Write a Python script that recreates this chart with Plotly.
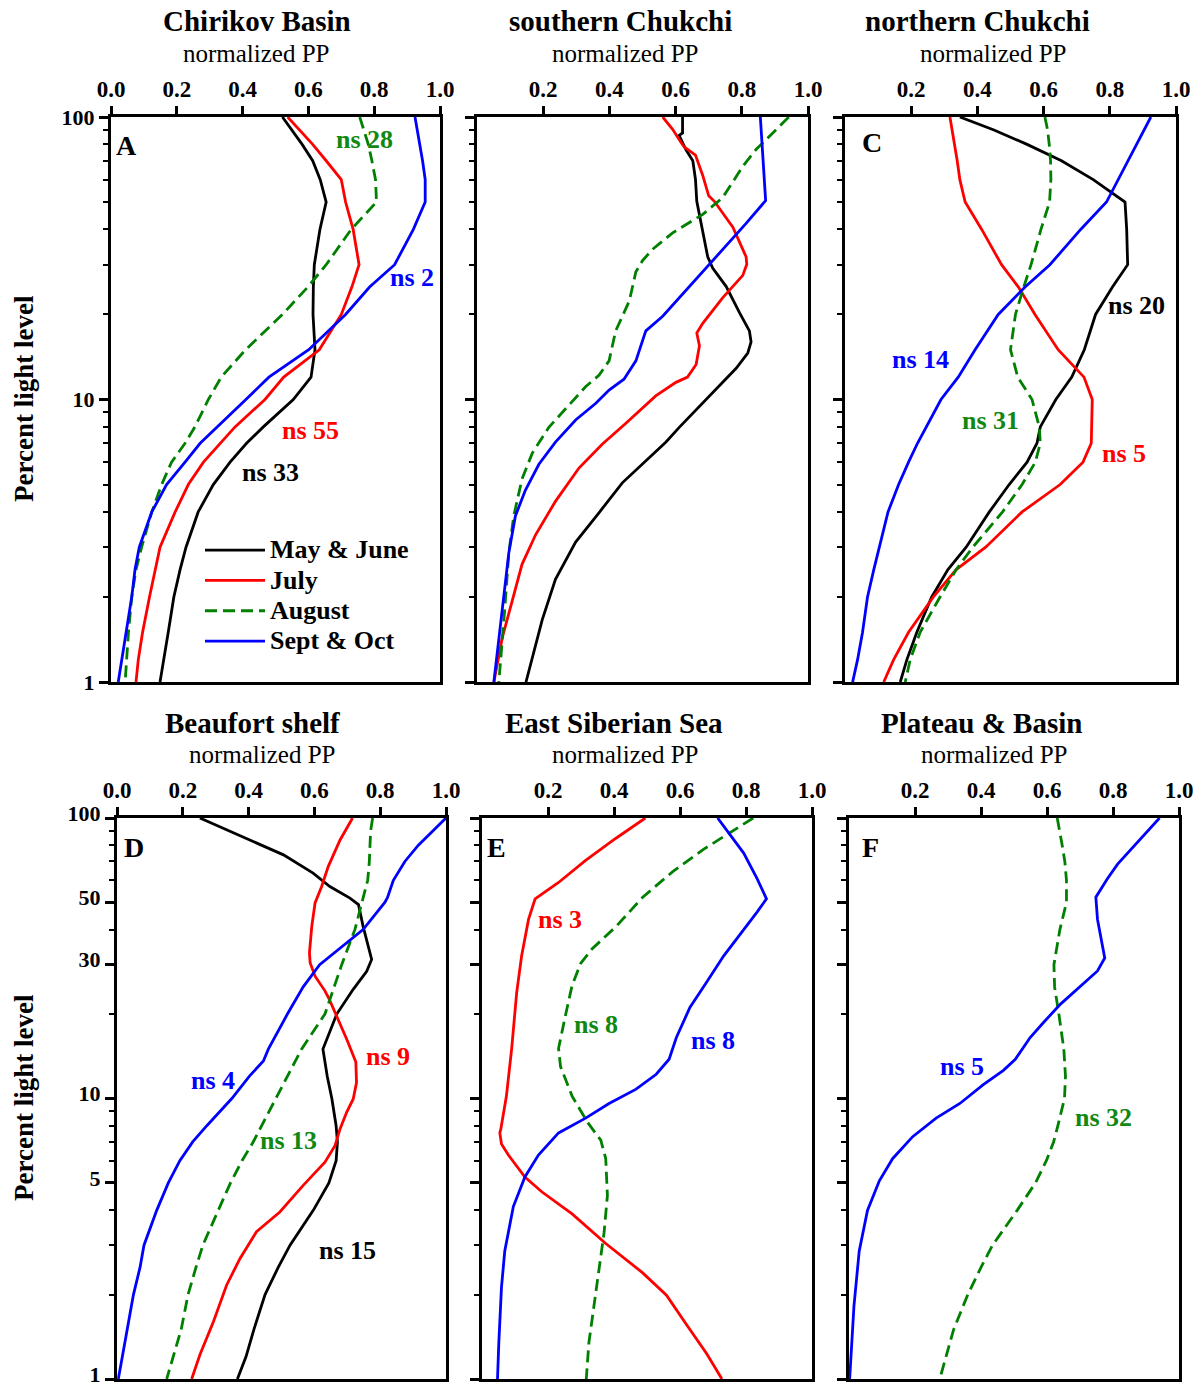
import plotly.graph_objects as go

W, H = 1200, 1389
FONT = "Liberation Serif"

# ---------------- data ----------------
LEVELS = [100, 90, 80, 70, 60, 50, 40, 30, 25, 20, 15, 12, 10, 8, 7, 6, 5, 4, 3, 2.5, 2, 1.5, 1.2, 1]
SERIES = ["May & June", "July", "August", "Sept & Oct"]

# A  Chirikov Basin
a_may_lvl = LEVELS
a_may_pp = [0.521, 0.550, 0.581, 0.613, 0.636, 0.654, 0.635, 0.618, 0.615, 0.614, 0.620, 0.608, 0.554,
            0.463, 0.412, 0.362, 0.311, 0.265, 0.228, 0.210, 0.191, 0.174, 0.159, 0.149]
a_jul_lvl = LEVELS
a_jul_pp = [0.537, 0.572, 0.613, 0.654, 0.700, 0.713, 0.736, 0.754, 0.732, 0.700, 0.633, 0.525, 0.468,
            0.377, 0.331, 0.281, 0.235, 0.195, 0.149, 0.134, 0.117, 0.096, 0.083, 0.076]
a_aug_lvl = LEVELS
a_aug_pp = [0.756, 0.768, 0.782, 0.793, 0.804, 0.807, 0.730, 0.654, 0.598, 0.521, 0.409, 0.335, 0.296,
            0.255, 0.225, 0.184, 0.154, 0.124, 0.093, 0.076, 0.063, 0.053, 0.047, 0.043]
a_sep_lvl = LEVELS
a_sep_pp = [0.924, 0.931, 0.939, 0.947, 0.955, 0.955, 0.919, 0.862, 0.786, 0.713, 0.601, 0.480, 0.410,
            0.321, 0.271, 0.225, 0.169, 0.124, 0.086, 0.073, 0.063, 0.046, 0.032, 0.022]

# B  southern Chukchi
b_may_lvl = [100, 87.8, 86.0, 76.7, 70.0, 60.2, 50.3, 39.5, 32.0, 29.2, 25.1, 20.3, 17.5, 16.0, 14.6, 12.9,
             10.3, 7.97, 7.07, 6.08, 5.07, 3.98, 3.13, 2.31, 1.66, 1]
b_may_pp = [0.621, 0.621, 0.611, 0.631, 0.652, 0.660, 0.664, 0.682, 0.697, 0.712, 0.753, 0.793, 0.823, 0.828,
            0.818, 0.783, 0.702, 0.611, 0.571, 0.510, 0.439, 0.369, 0.298, 0.237, 0.197, 0.148]
b_jul_lvl = [100, 90.5, 81.4, 78.3, 73.3, 62.1, 52.6, 50.3, 40.7, 32.0, 30.1, 27.5, 22.9, 18.6, 17.2, 15.5,
             13.3, 12.0, 11.5, 10.3, 8.22, 6.96, 5.72, 4.36, 3.32, 2.61, 1.93, 1.43, 1]
b_jul_pp = [0.561, 0.591, 0.616, 0.626, 0.660, 0.682, 0.700, 0.717, 0.773, 0.813, 0.815, 0.803, 0.742, 0.682,
            0.664, 0.672, 0.662, 0.636, 0.601, 0.540, 0.449, 0.379, 0.308, 0.237, 0.177, 0.136, 0.106, 0.076, 0.051]
b_aug_lvl = [100, 85.2, 76.7, 66.9, 54.2, 51.8, 45.2, 38.9, 34.0, 31.0, 28.3, 22.3, 17.5, 13.7, 12.2, 11.1,
             9.56, 7.97, 6.46, 5.23, 3.87, 2.86, 1.82, 1]
b_aug_pp = [0.942, 0.884, 0.843, 0.803, 0.753, 0.742, 0.682, 0.591, 0.530, 0.500, 0.480, 0.460, 0.419, 0.399,
            0.369, 0.328, 0.278, 0.217, 0.167, 0.136, 0.111, 0.096, 0.084, 0.066]
b_sep_lvl = [100, 68.0, 50.6, 42.0, 34.0, 30.1, 23.6, 19.7, 17.5, 15.0, 13.7, 11.8, 10.8, 9.70, 8.46, 7.07,
             5.90, 4.77, 3.87, 2.86, 1.82, 1]
b_sep_pp = [0.856, 0.864, 0.872, 0.813, 0.742, 0.702, 0.621, 0.561, 0.510, 0.490, 0.480, 0.444, 0.399, 0.359,
            0.298, 0.237, 0.187, 0.146, 0.116, 0.096, 0.076, 0.051]

# C  northern Chukchi
c_may_lvl = LEVELS
c_may_pp = [0.347, 0.450, 0.550, 0.654, 0.750, 0.846, 0.851, 0.854, 0.808, 0.757, 0.723, 0.685, 0.637,
            0.590, 0.580, 0.550, 0.496, 0.436, 0.366, 0.311, 0.262, 0.217, 0.187, 0.167]
c_jul_lvl = LEVELS
c_jul_pp = [0.317, 0.324, 0.332, 0.339, 0.347, 0.363, 0.413, 0.473, 0.524, 0.574, 0.644, 0.722, 0.747,
            0.746, 0.744, 0.719, 0.650, 0.535, 0.425, 0.336, 0.267, 0.192, 0.147, 0.117]
c_aug_lvl = LEVELS
c_aug_pp = [0.604, 0.612, 0.617, 0.621, 0.622, 0.618, 0.592, 0.562, 0.540, 0.515, 0.500, 0.522, 0.565,
            0.587, 0.590, 0.575, 0.535, 0.476, 0.386, 0.336, 0.287, 0.227, 0.197, 0.182]
c_sep_lvl = LEVELS
c_sep_pp = [0.924, 0.904, 0.881, 0.854, 0.826, 0.790, 0.712, 0.619, 0.544, 0.463, 0.393, 0.342, 0.290,
            0.247, 0.219, 0.192, 0.162, 0.130, 0.103, 0.087, 0.068, 0.053, 0.038, 0.023]

# D  Beaufort shelf
d_may_lvl = [100, 84.7, 73.9, 63.6, 57.0, 51.8, 49.1, 41.1, 31.3, 28.4, 24.5, 20, 15, 12, 10, 8, 7, 6, 5, 4,
             3, 2.5, 2, 1.5, 1.2, 1]
d_may_pp = [0.252, 0.394, 0.506, 0.596, 0.647, 0.708, 0.734, 0.748, 0.774, 0.759, 0.718, 0.668, 0.626, 0.639,
            0.653, 0.666, 0.670, 0.666, 0.644, 0.597, 0.526, 0.490, 0.450, 0.416, 0.392, 0.366]
d_jul_lvl = [100, 83.5, 67.1, 57.0, 49.8, 41.1, 33.1, 30.5, 27.3, 24.2, 22.6, 19.7, 16.3, 13.5, 11.4, 9.96,
             8.93, 7.79, 6.80, 5.93, 4.90, 3.94, 3.35, 2.69, 2.16, 1.60, 1.22, 1]
d_jul_pp = [0.716, 0.678, 0.642, 0.622, 0.602, 0.592, 0.585, 0.587, 0.602, 0.632, 0.645, 0.668, 0.698, 0.726,
            0.728, 0.718, 0.698, 0.678, 0.663, 0.632, 0.566, 0.495, 0.424, 0.374, 0.333, 0.293, 0.252, 0.227]
d_aug_lvl = LEVELS
d_aug_pp = [0.777, 0.771, 0.769, 0.767, 0.762, 0.744, 0.723, 0.683, 0.660, 0.632, 0.561, 0.518, 0.481,
            0.440, 0.414, 0.380, 0.345, 0.308, 0.261, 0.240, 0.216, 0.195, 0.172, 0.151]
d_sep_lvl = [100, 90, 80, 70, 60, 52, 50, 40, 30, 25, 20, 15, 13.6, 12, 10, 8, 7, 6, 5, 4, 3, 2.5, 2, 1.5,
             1.2, 1]
d_sep_pp = [1.0, 0.961, 0.916, 0.875, 0.840, 0.822, 0.814, 0.748, 0.616, 0.566, 0.518, 0.460, 0.445, 0.402,
            0.349, 0.273, 0.230, 0.191, 0.156, 0.121, 0.082, 0.070, 0.050, 0.031, 0.015, 0.004]

# E  East Siberian Sea (no May & June)
e_jul_lvl = [100, 84.7, 70.6, 58.9, 51.5, 43.5, 32.2, 23.8, 15.1, 10.2, 7.77, 7.54, 6.88, 6.29, 5.25, 4.65,
             3.88, 3.04, 2.39, 1.99, 1.56, 1.23, 1]
e_jul_pp = [0.495, 0.406, 0.314, 0.232, 0.161, 0.141, 0.120, 0.105, 0.090, 0.074, 0.057, 0.054, 0.059, 0.080,
            0.130, 0.181, 0.273, 0.375, 0.487, 0.559, 0.620, 0.681, 0.727]
e_aug_lvl = [100, 87.3, 77.3, 64.5, 52.2, 41.0, 34.2, 30.3, 25.3, 19.8, 15.1, 13.0, 10.2, 8.25, 7.10, 6.10,
             4.51, 3.33, 2.46, 1.82, 1.35, 1]
e_aug_pp = [0.822, 0.742, 0.671, 0.579, 0.487, 0.406, 0.334, 0.299, 0.273, 0.253, 0.232, 0.238, 0.273, 0.319,
            0.360, 0.375, 0.380, 0.370, 0.355, 0.339, 0.324, 0.316]
e_sep_lvl = [100, 87.3, 75.0, 60.7, 51.5, 46.3, 38.6, 32.2, 26.0, 21.1, 16.5, 13.8, 12.2, 10.8, 9.60, 8.51,
             7.54, 6.29, 5.25, 4.12, 2.86, 2.12, 1.35, 1]
e_sep_pp = [0.714, 0.752, 0.793, 0.834, 0.862, 0.834, 0.783, 0.732, 0.681, 0.630, 0.589, 0.567, 0.528, 0.467,
            0.385, 0.314, 0.232, 0.171, 0.130, 0.095, 0.069, 0.059, 0.051, 0.047]

# F  Plateau & Basin (August, Sept & Oct only)
f_aug_lvl = LEVELS
f_aug_pp = [0.631, 0.639, 0.646, 0.654, 0.659, 0.659, 0.639, 0.621, 0.623, 0.636, 0.651, 0.656, 0.653,
            0.633, 0.620, 0.598, 0.565, 0.510, 0.435, 0.400, 0.360, 0.317, 0.295, 0.275]
f_sep_lvl = [100, 82.2, 68.5, 60.7, 52.2, 43.5, 37.4, 31.7, 28.5, 24.5, 21.7, 18.7, 16.5, 13.8, 12.6, 11.2,
             9.60, 8.51, 7.31, 6.10, 5.09, 3.99, 2.86, 1.82, 1]
f_sep_pp = [0.941, 0.875, 0.814, 0.783, 0.748, 0.753, 0.763, 0.775, 0.753, 0.692, 0.641, 0.590, 0.549, 0.504,
            0.468, 0.407, 0.336, 0.264, 0.193, 0.132, 0.092, 0.056, 0.031, 0.015, 0.002]

PANEL_TITLES = ["Chirikov Basin", "southern Chukchi", "northern Chukchi",
                "Beaufort shelf", "East Siberian Sea", "Plateau & Basin"]
PANEL_LETTERS = ["A", "", "C", "D", "E", "F"]
X_TICKS_FULL = [0.0, 0.2, 0.4, 0.6, 0.8, 1.0]
X_TICKS_PART = [0.2, 0.4, 0.6, 0.8, 1.0]
Y_TICKS_TOP = [1, 10, 100]
Y_TICKS_BOTTOM = [1, 5, 10, 30, 50, 100]

# ns labels: (panel, text, series index, x px, y px)
NS_LABELS = [
    (0, "ns 28", 2, 364, 139), (0, "ns 2", 3, 412, 277), (0, "ns 55", 1, 310, 431), (0, "ns 33", 0, 270, 472),
    (2, "ns 20", 0, 1136, 305), (2, "ns 14", 3, 920, 359), (2, "ns 31", 2, 990, 421), (2, "ns 5", 1, 1124, 453),
    (3, "ns 4", 3, 213, 1080), (3, "ns 13", 2, 288, 1140), (3, "ns 9", 1, 388, 1056), (3, "ns 15", 0, 347, 1250),
    (4, "ns 3", 1, 560, 919), (4, "ns 8", 2, 596, 1024), (4, "ns 8", 3, 713, 1040),
    (5, "ns 5", 3, 962, 1066), (5, "ns 32", 2, 1103, 1117),
]

panels = [
    [(a_may_lvl, a_may_pp, 0), (a_jul_lvl, a_jul_pp, 1), (a_aug_lvl, a_aug_pp, 2), (a_sep_lvl, a_sep_pp, 3)],
    [(b_may_lvl, b_may_pp, 0), (b_jul_lvl, b_jul_pp, 1), (b_aug_lvl, b_aug_pp, 2), (b_sep_lvl, b_sep_pp, 3)],
    [(c_may_lvl, c_may_pp, 0), (c_jul_lvl, c_jul_pp, 1), (c_aug_lvl, c_aug_pp, 2), (c_sep_lvl, c_sep_pp, 3)],
    [(d_may_lvl, d_may_pp, 0), (d_jul_lvl, d_jul_pp, 1), (d_aug_lvl, d_aug_pp, 2), (d_sep_lvl, d_sep_pp, 3)],
    [(e_jul_lvl, e_jul_pp, 1), (e_aug_lvl, e_aug_pp, 2), (e_sep_lvl, e_sep_pp, 3)],
    [(f_aug_lvl, f_aug_pp, 2), (f_sep_lvl, f_sep_pp, 3)],
]

# ---------------- styles / layout ----------------
COLORS = ["#000000", "#ff0000", "#008000", "#0000ff"]
LABEL_COLORS = ["#000000", "#ff0000", "#118811", "#0000ff"]
DASHES = ["solid", "solid", "12px,6px", "solid"]

def px(x):
    return x / W

def py(y):
    return 1 - y / H

# frame pixel boxes (left, right, top, bottom)
BOXES = [(111, 440, 117, 682), (477, 808, 117, 682), (845, 1176, 117, 682),
         (117, 446, 818, 1379), (482, 812, 818, 1379), (849, 1179, 818, 1379)]
TITLE_POS = [(257, 21, 256, 53), (620, 21, 626, 53), (978, 21, 993, 53),
             (252, 723, 262, 754), (614, 723, 626, 754), (981, 723, 994, 754)]
LETTER_POS = [(126, 145), (0, 0), (872, 142), (134, 847), (496, 847), (870, 847)]

def minor_vals():
    vals = []
    for dec in (1, 10):
        for k in range(2, 10):
            vals.append(k * dec)
    return vals

fig = go.Figure()
annotations = []
layout_axes = {}

for i, curves in enumerate(panels):
    n = i + 1
    xa = "x" if n == 1 else f"x{n}"
    ya = "y" if n == 1 else f"y{n}"
    for lvl, pp, s in curves:
        fig.add_trace(go.Scatter(
            x=pp, y=lvl, mode="lines", xaxis=xa, yaxis=ya,
            name=f'<span style="font-size:26px">{SERIES[s]}</span>',
            legendgroup=SERIES[s], showlegend=(i == 0),
            line=dict(color=COLORS[s], width=2.8, dash=DASHES[s]),
            hovertemplate=SERIES[s] + ": %{x:.2f} at %{y}%<extra></extra>",
        ))
    l, r, t, b = BOXES[i]
    top_row = i < 3
    xticks = X_TICKS_FULL if i in (0, 3) else X_TICKS_PART
    yticks = Y_TICKS_TOP if top_row else Y_TICKS_BOTTOM
    show_ylabels = i in (0, 3)
    minors = [v for v in minor_vals() if v not in yticks]
    layout_axes["xaxis" if n == 1 else f"xaxis{n}"] = dict(
        domain=[px(l), px(r)], anchor=ya, side="top", range=[0, 1], autorange=False,
        tickvals=xticks, ticktext=[f"{v:.1f}" for v in xticks],
        ticks="outside", ticklen=8, tickwidth=2.5, tickcolor="black",
        showline=True, linecolor="black", linewidth=3, mirror=True,
        showgrid=False, zeroline=False, fixedrange=True, automargin=False,
        ticklabeloverflow="allow",
        tickfont=dict(family=FONT, size=23, color="black", weight="bold"),
    )
    layout_axes["yaxis" if n == 1 else f"yaxis{n}"] = dict(
        domain=[py(b), py(t)], anchor=xa, type="log", range=[0, 2], autorange=False,
        tickvals=yticks, ticktext=[str(v) for v in yticks] if show_ylabels else [""] * len(yticks),
        ticks="outside", ticklen=9, tickwidth=2.5, tickcolor="black",
        minor=dict(tickvals=minors, ticks="outside", ticklen=5, tickwidth=1.5, tickcolor="black", showgrid=False),
        showline=True, linecolor="black", linewidth=3, mirror=True,
        showgrid=False, zeroline=False, fixedrange=True, automargin=False,
        ticklabeloverflow="allow", ticklabelshift=0 if top_row else -5,
        tickfont=dict(family=FONT, size=22, color="black", weight="bold"),
    )
    tx, ty, sx, sy = TITLE_POS[i]
    annotations.append(dict(text=f"<b>{PANEL_TITLES[i]}</b>", x=px(tx), y=py(ty), xref="paper", yref="paper",
                            showarrow=False, font=dict(family=FONT, size=29, color="black"),
                            xanchor="center", yanchor="middle"))
    annotations.append(dict(text="normalized PP", x=px(sx), y=py(sy), xref="paper", yref="paper",
                            showarrow=False, font=dict(family=FONT, size=25, color="black"),
                            xanchor="center", yanchor="middle"))
    if PANEL_LETTERS[i]:
        lx, ly = LETTER_POS[i]
        annotations.append(dict(text=f"<b>{PANEL_LETTERS[i]}</b>", x=px(lx), y=py(ly), xref="paper", yref="paper",
                                showarrow=False, font=dict(family=FONT, size=28, color="black"),
                                xanchor="center", yanchor="middle"))

for p, txt, s, x, y in NS_LABELS:
    annotations.append(dict(text=f"<b>{txt}</b>", x=px(x), y=py(y), xref="paper", yref="paper",
                            showarrow=False, font=dict(family=FONT, size=26, color=LABEL_COLORS[s]),
                            xanchor="center", yanchor="middle"))

for yc in (399, 1098):
    annotations.append(dict(text="<b>Percent light level</b>", x=px(24), y=py(yc), xref="paper", yref="paper",
                            showarrow=False, textangle=-90, font=dict(family=FONT, size=27, color="black"),
                            xanchor="center", yanchor="middle"))

fig.update_layout(
    width=W, height=H, autosize=False,
    margin=dict(l=0, r=0, t=0, b=0, pad=0, autoexpand=False),
    paper_bgcolor="white", plot_bgcolor="white",
    annotations=annotations,
    legend=dict(x=px(200), y=py(530), xanchor="left", yanchor="top",
                font=dict(family=FONT, size=21, color="black", weight="bold"),
                bgcolor="rgba(0,0,0,0)", tracegroupgap=0, itemwidth=60,
                traceorder="normal"),
    **layout_axes,
)

fig.write_html("out.html", config={"displayModeBar": False},
               post_script="document.body.style.margin='0px';")
